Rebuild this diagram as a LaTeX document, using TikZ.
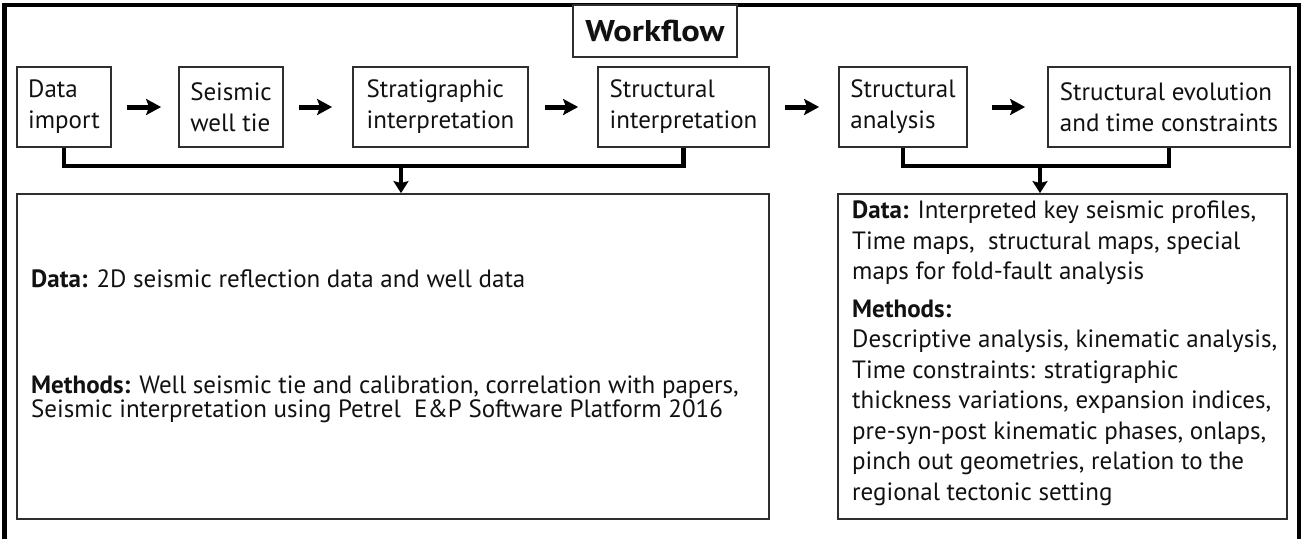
\documentclass[tikz,border=0pt]{standalone}
\usepackage{fontspec}
\setmainfont{PT Sans}
\usetikzlibrary{arrows.meta,calc}
\definecolor{boxgray}{HTML}{2E2E2E}
\definecolor{ink}{HTML}{111111}
\begin{document}
\begin{tikzpicture}[x=1pt,y=-1pt,
  every node/.style={text=ink},
  stepbox/.style={draw=boxgray, line width=1.8pt, minimum height=80pt,
    inner sep=0pt, align=left,
    font=\fontsize{25}{31}\selectfont},
  panel/.style={draw=boxgray, line width=1.8pt, inner sep=0pt},
  frameline/.style={line width=4.5pt, draw=black},
  bracket/.style={line width=4.5pt, draw=black},
  flow/.style={line width=5pt, -{Stealth[length=15pt,width=16pt,inset=3pt]}},
  drop/.style={line width=4.5pt, -{Stealth[length=12pt,width=15pt,inset=2pt]}},
  body/.style={anchor=base west, inner sep=0pt, align=left}]
\useasboundingbox (0,0) rectangle (1306,539);

% outer frame, open at the bottom
\draw[frameline] (4.5,539) -- (4.5,5) -- (1299,5) -- (1299,539);

% title
\node[panel, minimum width=164pt, minimum height=52pt, fill=white,
      font=\bfseries\fontsize{30}{34}\selectfont\addfontfeature{FakeStretch=1.15}]
      (title) at (655,31) {Workflow};

% workflow steps
\node[stepbox, minimum width=94pt]  (imp)     at (64,107)    {Data\\import};
\node[stepbox, minimum width=104pt] (tie)     at (231,107)   {Seismic\\well tie};
\node[stepbox, minimum width=175pt] (strat)   at (440.5,107) {Stratigraphic\\interpretation};
\node[stepbox, minimum width=171pt] (structi) at (683.5,107) {Structural\\interpretation};
\node[stepbox, minimum width=128pt] (sana)    at (903,107)   {Structural\\analysis};
\node[stepbox, minimum width=242pt] (sevo)    at (1169,107)  {Structural evolution\\and time constraints};

% arrows between steps
\draw[flow, shorten <=15pt, shorten >=17pt] (imp.east) -- (tie.west);
\draw[flow, shorten <=15pt, shorten >=20pt] (tie.east) -- (strat.west);
\draw[flow, shorten <=16pt, shorten >=19pt] (strat.east) -- (structi.west);
\draw[flow, shorten <=15pt, shorten >=19pt] (structi.east) -- (sana.west);
\draw[flow, shorten <=24pt, shorten >=22pt] (sana.east) -- (sevo.west);

% result panels
\node[panel, minimum width=752pt, minimum height=325pt] (lbox) at (393,356.5) {};
\node[panel, minimum width=449pt, minimum height=325pt] (rbox) at (1062.5,356.5) {};

% brackets joining the steps
\coordinate (lj) at (401,166);
\coordinate (rj) at (1040,166);
\draw[bracket] (imp.south) -- (imp.south |- lj) -| (structi.south);
\draw[bracket] (sana.south) -- (sana.south |- rj) -| (sevo.south);
\draw[drop] (lj) -- (lj |- lbox.north);
\draw[drop] (rj) -- (rj |- rbox.north);

% left panel text (anchored on the baseline of the last line)
\node[body, font=\fontsize{25}{31}\selectfont] (ldata) at (31,287)
  {\textbf{Data:} 2D seismic reflection data and well data};
\node[body, font=\fontsize{25}{24}\selectfont] (lmeth) at (31,417)
  {\textbf{Methods:} Well seismic tie and calibration, correlation with papers,\\
   Seismic interpretation using Petrel\ \ E\&P Software Platform 2016};

% right panel text
\node[body, font=\fontsize{25}{30.5}\selectfont] (rtext) at (852,500)
  {\textbf{Data:} Interpreted key seismic profiles,\\
   Time maps,\ \ structural maps, special\\
   maps for fold-fault analysis\\[7pt]
   \textbf{Methods:}\\
   Descriptive analysis, kinematic analysis,\\
   Time constraints: stratigraphic\\
   thickness variations, expansion indices,\\
   pre-syn-post kinematic phases, onlaps,\\
   pinch out geometries, relation to the\\
   regional tectonic setting};
\end{tikzpicture}
\end{document}
